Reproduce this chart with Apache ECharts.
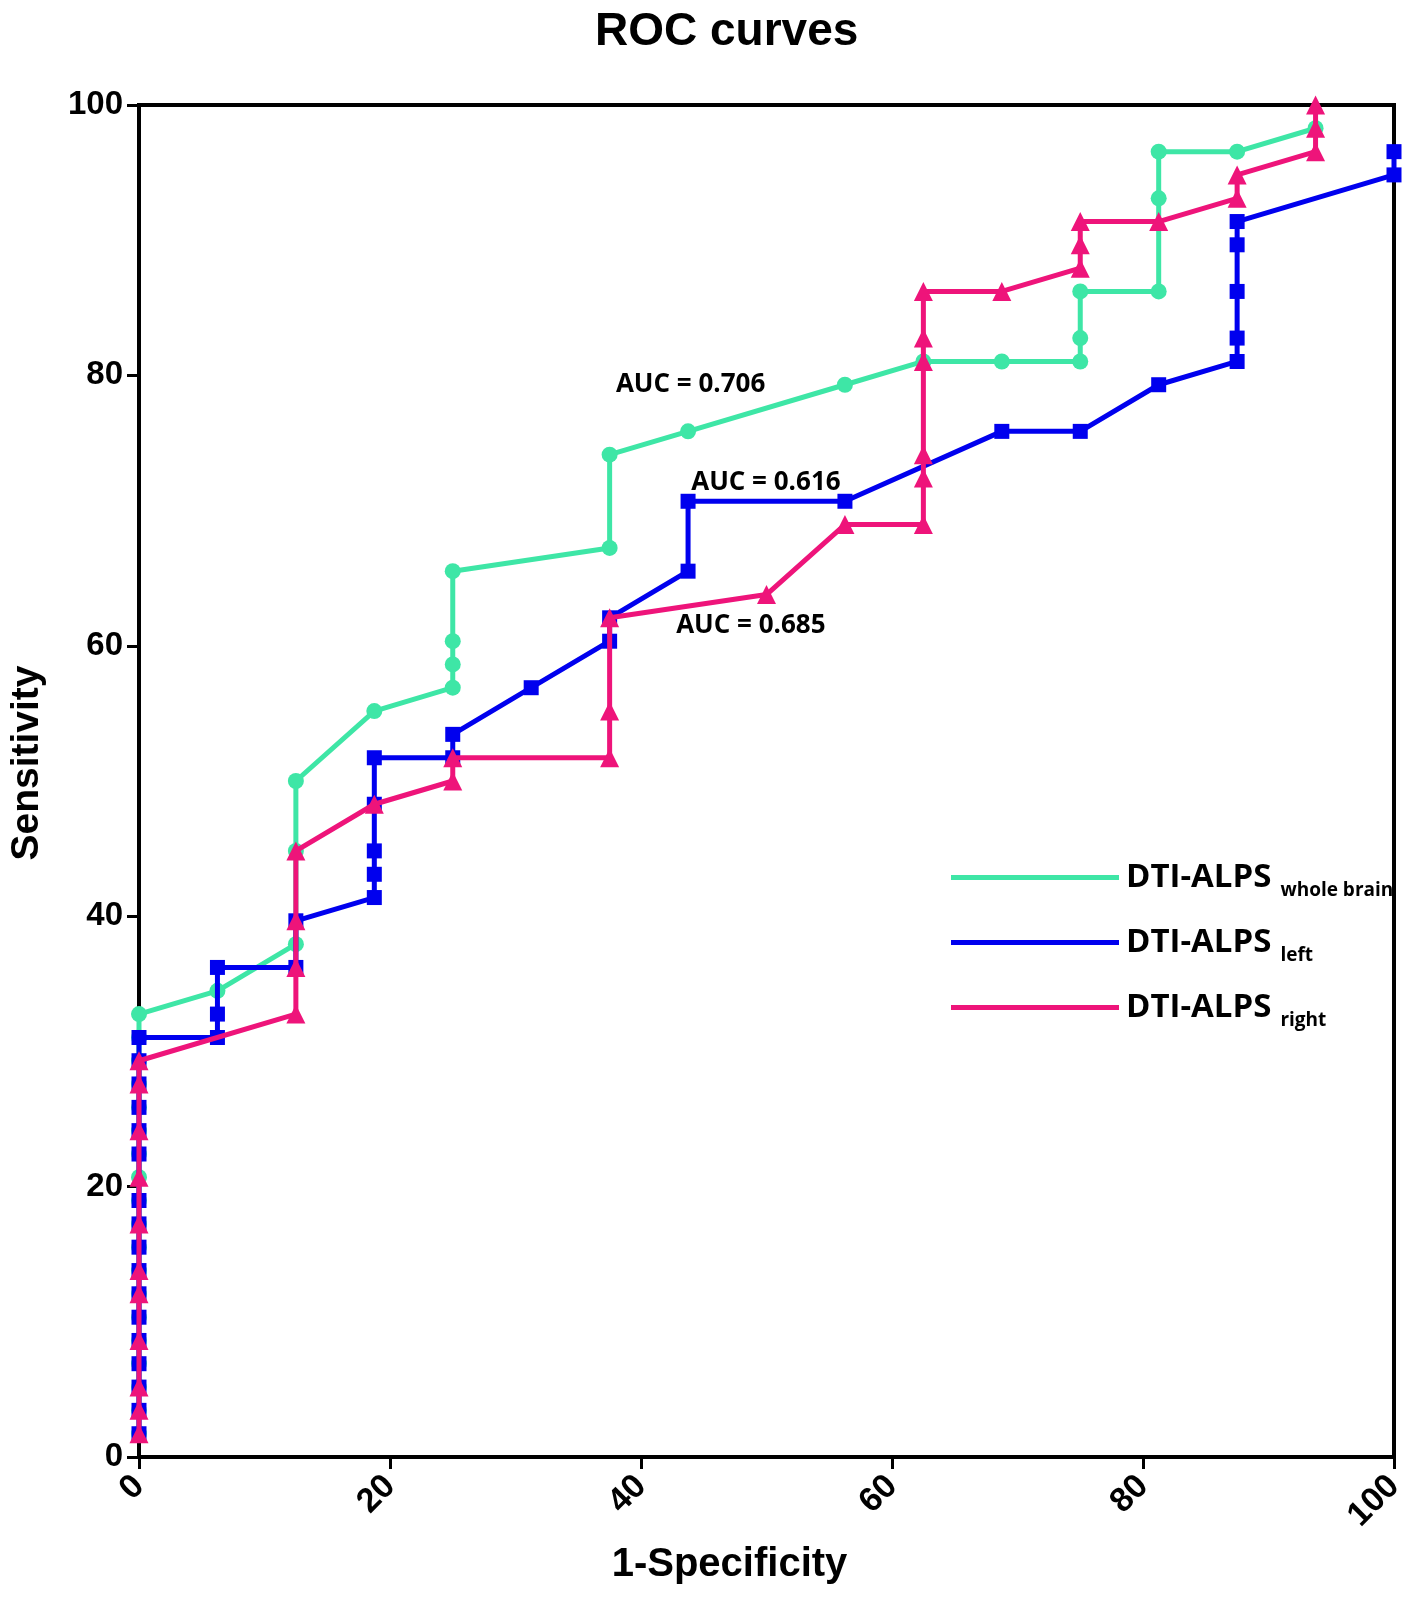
<!DOCTYPE html>
<html>
<head>
<meta charset="utf-8">
<script src="https://cdn.jsdelivr.net/npm/echarts@6/dist/echarts.min.js"></script>
<style>
html,body{margin:0;padding:0;background:#fff;}
#chart{width:1417px;height:1597px;}
</style>
</head>
<body>
<div id="chart"></div>
<script>
// ---- data (percentages) ----
const seriesNames = ['DTI-ALPS whole brain', 'DTI-ALPS left', 'DTI-ALPS right'];
const subscripts = ['whole brain', 'left', 'right'];
const colors = ['#3EE6A6', '#0000EE', '#EE147A'];
const symbols = ['circle', 'rect', 'triangle'];

const wholeX = [0,0,0,0,0,0,0,0,0,0,0,0,0,0,0,0,0,0,0,
  6.25,12.5,12.5,12.5,18.75,25,25,25,25,37.5,37.5,43.75,56.25,62.5,68.75,75,75,75,81.25,81.25,81.25,87.5,93.75];
const wholeY = [1.72,3.45,5.17,6.90,8.62,10.34,12.07,13.79,15.52,17.24,18.97,20.69,22.41,24.14,25.86,27.59,29.31,31.03,32.76,
  34.48,37.93,44.83,50.00,55.17,56.90,58.62,60.34,65.52,67.24,74.14,75.86,79.31,81.03,81.03,81.03,82.76,86.21,86.21,93.10,96.55,96.55,98.28];

const leftX = [0,0,0,0,0,0,0,0,0,0,0,0,0,0,0,0,0,
  6.25,6.25,6.25,12.5,12.5,18.75,18.75,18.75,18.75,18.75,25,25,31.25,37.5,37.5,43.75,43.75,56.25,68.75,75,81.25,87.5,87.5,87.5,87.5,87.5,100,100];
const leftY = [1.72,3.45,5.17,6.90,8.62,10.34,12.07,13.79,15.52,17.24,18.97,22.41,24.14,25.86,27.59,29.31,31.03,
  31.03,32.76,36.21,36.21,39.66,41.38,43.10,44.83,48.28,51.72,51.72,53.45,56.90,60.34,62.07,65.52,70.69,70.69,75.86,75.86,79.31,81.03,82.76,86.21,89.66,91.38,94.83,96.55];

const rightX = [0,0,0,0,0,0,0,0,0,0,0,
  12.5,12.5,12.5,12.5,18.75,25,25,37.5,37.5,37.5,50,56.25,62.5,62.5,62.5,62.5,62.5,62.5,68.75,75,75,75,81.25,87.5,87.5,93.75,93.75,93.75];
const rightY = [1.72,3.45,5.17,8.62,12.07,13.79,17.24,20.69,24.14,27.59,29.31,
  32.76,36.21,39.66,44.83,48.28,50.00,51.72,51.72,55.17,62.07,63.79,68.97,68.97,72.41,74.14,81.03,82.76,86.21,86.21,87.93,89.66,91.38,91.38,93.10,94.83,96.55,98.28,100];

const aucTexts = ['AUC = 0.706', 'AUC = 0.616', 'AUC = 0.685'];
const aucPosX = [38.0, 44.0, 42.8];
const aucPosY = [79.3, 72.1, 61.5];

const xTicks = [0, 20, 40, 60, 80, 100];

// ---- build ----
const xs = [wholeX, leftX, rightX];
const ys = [wholeY, leftY, rightY];
const symSizes = [16, 15, 19];

const series = seriesNames.map((name, i) => ({
  name: name,
  type: 'line',
  data: xs[i].map((x, j) => [x, ys[i][j]]),
  symbol: symbols[i],
  symbolSize: symSizes[i],
  showAllSymbol: true,
  clip: false,
  z: 2 + i,
  lineStyle: { color: colors[i], width: 5 },
  itemStyle: { color: colors[i] },
  emphasis: { disabled: true },
  animation: false,
  markPoint: {
    symbol: 'circle',
    symbolSize: 0,
    silent: true,
    data: [{
      coord: [aucPosX[i], aucPosY[i]],
      label: {
        show: true,
        formatter: aucTexts[i],
        position: 'right',
        distance: 0,
        color: '#000',
        fontSize: 26,
        fontWeight: 'bold',
        fontFamily: 'Open Sans, Noto Sans, sans-serif'
      }
    }]
  }
}));

const chart = echarts.init(document.getElementById('chart'), null, { renderer: 'canvas' });
const axisFont = 'Liberation Sans, Arial, sans-serif';
const legFont = 'Open Sans, Noto Sans, sans-serif';
chart.setOption({
  backgroundColor: '#fff',
  animation: false,
  title: {
    text: 'ROC curves',
    left: 590,
    top: 4,
    textStyle: { fontSize: 46, fontWeight: 'bold', color: '#000', fontFamily: axisFont }
  },
  legend: {
    orient: 'vertical',
    left: 946,
    top: 843,
    icon: 'rect',
    itemWidth: 168,
    itemHeight: 5,
    itemGap: 6,
    selectedMode: false,
    data: seriesNames,
    formatter: function (name) {
      const i = seriesNames.indexOf(name);
      return '{a|DTI-ALPS}{b|' + subscripts[i] + '}';
    },
    textStyle: {
      color: '#000',
      padding: [0, 0, 0, 2],
      rich: {
        a: { fontSize: 33, fontWeight: 'bold', fontFamily: legFont, color: '#000', lineHeight: 40, padding: [13, 0, 13, 0] },
        b: { fontSize: 19, fontWeight: 'bold', fontFamily: legFont, color: '#000', lineHeight: 40, padding: [26, 0, 0, 9] }
      }
    }
  },
  grid: {
    left: 135, right: 23, top: 105, bottom: 140,
    show: true, borderColor: '#000', borderWidth: 4, backgroundColor: 'transparent'
  },
  xAxis: {
    type: 'value', min: 0, max: 100, interval: 20,
    name: '1-Specificity',
    nameLocation: 'middle',
    nameGap: 88,
    nameTextStyle: { fontSize: 40, fontWeight: 'bold', color: '#000', fontFamily: axisFont, padding: [0, 74, 0, 0] },
    axisLine: { show: true, lineStyle: { color: '#000', width: 4 } },
    axisTick: { show: true, length: 12, lineStyle: { color: '#000', width: 3 } },
    axisLabel: {
      rotate: 45, margin: 24, fontSize: 34, fontWeight: 'bold', color: '#000', fontFamily: axisFont,
      formatter: v => (xTicks.indexOf(v) >= 0 ? String(v) : '')
    },
    splitLine: { show: false }
  },
  yAxis: {
    type: 'value', min: 0, max: 100, interval: 20,
    name: 'Sensitivity',
    nameLocation: 'middle',
    nameGap: 92,
    nameTextStyle: { fontSize: 39, fontWeight: 'bold', color: '#000', fontFamily: axisFont, padding: [0, 0, 0, 36] },
    axisLine: { show: true, lineStyle: { color: '#000', width: 4 } },
    axisTick: { show: true, length: 12, lineStyle: { color: '#000', width: 3 } },
    axisLabel: { margin: 16, fontSize: 33, fontWeight: 'bold', color: '#000', fontFamily: axisFont },
    splitLine: { show: false }
  },
  series: series
});
</script>
</body>
</html>
